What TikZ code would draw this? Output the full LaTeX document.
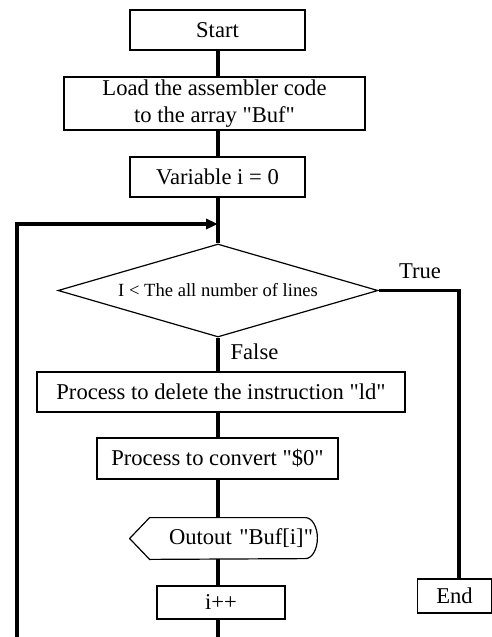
\documentclass[tikz,border=0pt]{standalone}
\usepackage{fontspec}
\setmainfont{Liberation Serif}
\usetikzlibrary{shapes.geometric, arrows.meta}

\begin{document}
\begin{tikzpicture}[x=0.5pt, y=-0.5pt,
        box/.style={draw, line width=0.6pt, inner sep=0pt, align=center, font=\fontsize{11.3}{13.5}\selectfont},
        flow/.style={line width=1.6pt},
        lbl/.style={font=\fontsize{11.3}{13.5}\selectfont}]
        \useasboundingbox (0,0) rectangle (492,637);

        % Main spine
        \coordinate (spine) at (218,0);

        % Start
        \node[box, minimum width=87.5pt, minimum height=20pt] (start) at (217.5,30) {Start};

        % Load code
        \node[box, minimum width=150.5pt, minimum height=26.5pt] (load) at (214.5,103.5) {Load the assembler code\\to the array \textquotedbl Buf\textquotedbl};

        % Init
        \node[box, minimum width=87.5pt, minimum height=20pt] (init) at (217.5,177) {Variable i = 0};

        % Decision
        \node[draw, diamond, aspect=3.44, line width=0.6pt, inner sep=0pt, minimum width=160pt, minimum height=46.5pt,
            font=\fontsize{9.3}{11}\selectfont] (check) at (218,290.5) {I < The all number of lines};
        \node[lbl] (true) at (420,271) {True};
        \node[lbl] (false) at (254.5,352) {False};

        % Loop body
        \node[box, minimum width=184pt, minimum height=20pt] (delld) at (221,392) {Process to delete the instruction \textquotedbl ld\textquotedbl};
        \node[box, minimum width=120.5pt, minimum height=20.5pt] (conv) at (217.5,458.5) {Process to convert \textquotedbl\$0\textquotedbl};

        % Output (display shape)
        \node[lbl, inner xsep=2pt, inner ysep=0pt, minimum width=93.5pt, minimum height=20.5pt,
            text width=89.5pt, align=right] (outbuf) at (223.5,538.5) {Outout \textquotedbl Buf[i]\textquotedbl};
        \draw[line width=0.6pt] (outbuf.west) -- ([xshift=10pt]outbuf.north west) -- ([xshift=-6pt]outbuf.north east)
            arc[start angle=90, end angle=-90, x radius=6pt, y radius=10.25pt]
            -- ([xshift=10pt]outbuf.south west) -- cycle;

        \node[box, minimum width=64pt, minimum height=16.5pt] (inc) at (221,602.5) {i++};

        % End
        \node[box, minimum width=37pt, minimum height=17pt] (end) at (454.5,596) {End};

        % Connectors
        \draw[flow] (spine |- start.south) -- (spine |- load.north);
        \draw[flow] (spine |- load.south) -- (spine |- init.north);
        \draw[flow] (spine |- init.south) -- (check.north);
        \draw[flow] (check.south) -- (spine |- delld.north);
        \draw[flow] (spine |- delld.south) -- (spine |- conv.north);
        \draw[flow] (spine |- conv.south) -- (spine |- outbuf.north);
        \draw[flow] (spine |- outbuf.south) -- (spine |- inc.north);

        % True branch
        \coordinate (tr) at (459,290.5);
        \draw[flow] (check.east) -- (tr) -- (tr |- end.north);

        % Back loop
        \coordinate (bot) at (218,637);
        \coordinate (loopb) at (17,637);
        \coordinate (loopt) at (17,224);
        \draw[flow] (spine |- inc.south) -- (bot);
        \draw[flow, -{Triangle[length=6pt, width=5pt]}] (loopb) -- (loopt) -- (spine |- loopt);

    \end{tikzpicture}
\end{document}
